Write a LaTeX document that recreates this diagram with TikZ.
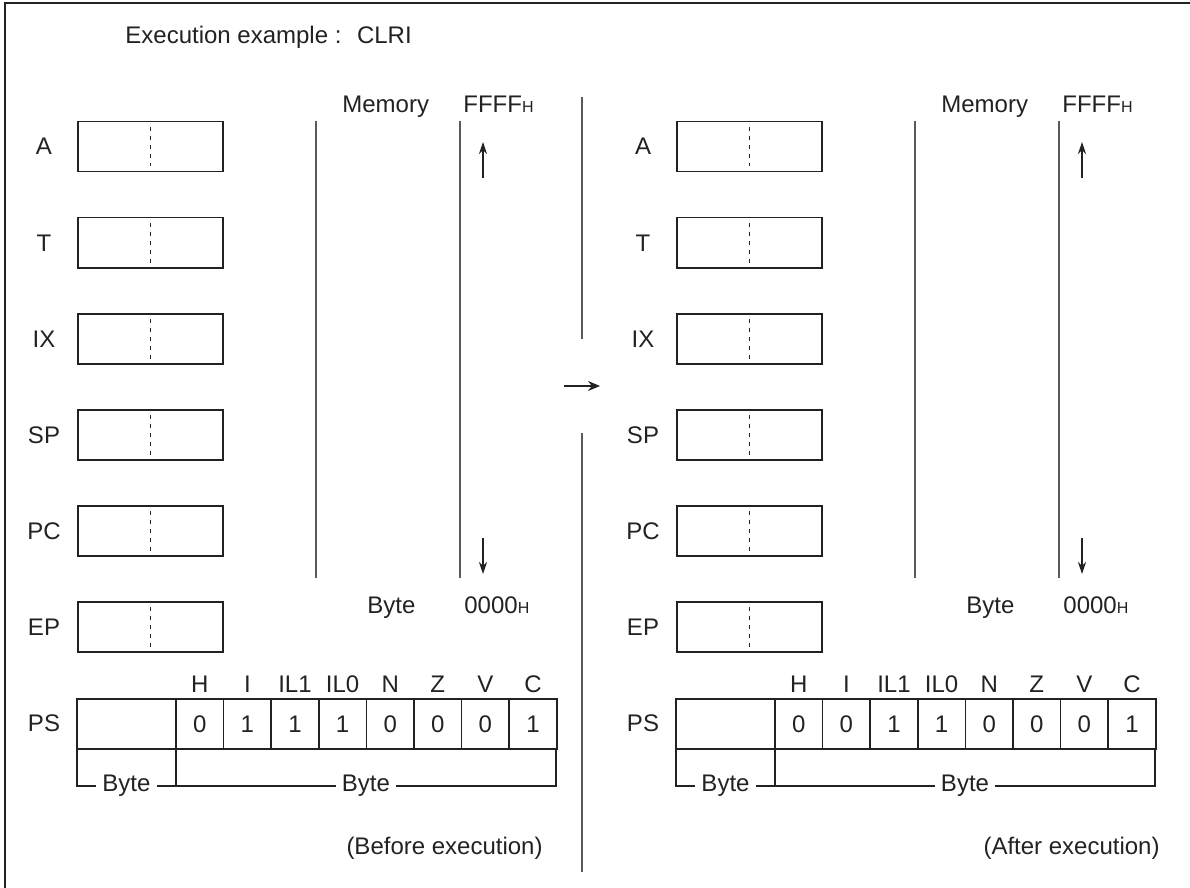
\documentclass[tikz,border=0pt]{standalone}
\usepackage{fontspec}
\setmainfont{Liberation Sans}
\usetikzlibrary{arrows.meta}
\definecolor{ink}{HTML}{222222}
\definecolor{rulegray}{HTML}{5A5A5A}
\begin{document}
\begin{tikzpicture}[x=0.5pt,y=-0.5pt,
  font=\fontsize{12}{14}\selectfont,
  every node/.style={text=ink},
  reg/.style={draw=ink, line width=0.75pt, minimum width=72.5pt, minimum height=25pt, inner sep=0pt, anchor=north west},
  halfline/.style={draw=ink, line width=0.75pt, dash pattern=on 2pt off 2.5pt},
  lbl/.style={anchor=base, inner sep=0pt},
  lblw/.style={anchor=base west, inner sep=0pt},
  memline/.style={draw=rulegray, line width=1pt},
  cellbox/.style={draw=ink, line width=0.75pt, minimum width=23.8pt, minimum height=25pt, inner sep=0pt, outer sep=0pt, anchor=north west},
  headbox/.style={draw=ink, line width=0.75pt, minimum width=49.5pt, minimum height=25pt, inner sep=0pt, outer sep=0pt, anchor=north west},
  brk/.style={draw=ink, line width=0.75pt},
  brklbl/.style={fill=white, inner xsep=3pt, inner ysep=1pt, anchor=center},
  ptr/.style={draw=ink, line width=0.6pt, -{Stealth[length=6pt,width=4pt]}},
  midptr/.style={draw=ink, line width=0.7pt, -{Stealth[length=6pt,width=5pt]}}
]
\useasboundingbox (0,0) rectangle (1190,888);
% frame
\coordinate (fbl) at (5,888);
\coordinate (ftl) at (5,3);
\coordinate (ftr) at (1190,3);
\draw[ink, line width=1pt] (fbl) -- (ftl) -- (ftr);
% title
\node[lblw] (title) at (125,43.5) {Execution example : \ CLRI};
% separator and transition arrow
\coordinate (sepA) at (582,97);
\coordinate (sepB) at (582,339);
\coordinate (sepC) at (582,433);
\coordinate (sepD) at (582,872);
\draw[memline] (sepA) -- (sepB);
\draw[memline] (sepC) -- (sepD);
\coordinate (goA) at (564,386);
\coordinate (goB) at (600,386);
\draw[midptr] (goA) -- (goB);
% panels
\foreach \sd/\dx/\vals/\capx/\capt in {L/0/{0,1,1,1,0,0,0,1}/543/{(Before execution)},R/599/{0,0,1,1,0,0,0,1}/561/{(After execution)}} {
\begin{scope}[xshift=\dx*0.5pt]
  \foreach \rg/\yy in {A/121,T/217,IX/313,SP/409,PC/505,EP/601} {
    \node[reg] (\rg-\sd) at (77,\yy) {};
    \draw[halfline] ([yshift=-3pt]\rg-\sd.north) -- ([yshift=3pt]\rg-\sd.south);
    \node[lbl] (\rg-\sd-l) at (44,\yy+34) {\rg};
  }
  % memory
  \node[lblw] (mem-\sd) at (342,113) {Memory};
  \node[lblw] (top-\sd) at (463,113) {FFFF{\fontsize{8}{9}\selectfont H}};
  \node[lblw] (byte-\sd) at (367,613) {Byte};
  \node[lblw] (bot-\sd) at (464,613) {0000{\fontsize{8}{9}\selectfont H}};
  \coordinate (m1a-\sd) at (316,121);
  \coordinate (m1b-\sd) at (316,578);
  \coordinate (m2a-\sd) at (460,121);
  \coordinate (m2b-\sd) at (460,578);
  \draw[memline] (m1a-\sd) -- (m1b-\sd);
  \draw[memline] (m2a-\sd) -- (m2b-\sd);
  \coordinate (upa-\sd) at (483,178);
  \coordinate (upb-\sd) at (483,142);
  \coordinate (dna-\sd) at (483,538);
  \coordinate (dnb-\sd) at (483,574);
  \draw[ptr] (upa-\sd) -- (upb-\sd);
  \draw[ptr] (dna-\sd) -- (dnb-\sd);
  % PS
  \node[headbox] (psh-\sd) at (77,699) {};
  \foreach \v [count=\cc] in \vals {
    \node[cellbox] (c\cc-\sd) at ({176+(\cc-1)*47.6},699) {\v};
  }
  \foreach \fl [count=\cc] in {H,I,IL1,IL0,N,Z,V,C} {
    \node[lbl] (f\cc-\sd) at ({176+(\cc-0.5)*47.6},692) {\fl};
  }
  \node[lbl] (ps-\sd) at (44,731) {PS};
  % byte brackets
  \coordinate (bk1-\sd) at (77,786);
  \coordinate (bk2-\sd) at (176,786);
  \coordinate (bk3-\sd) at (556,786);
  \draw[brk] (bk1-\sd |- psh-\sd.south) -- (bk1-\sd) -- (bk2-\sd) -- (bk2-\sd |- psh-\sd.south);
  \draw[brk] (bk2-\sd) -- (bk3-\sd) -- (bk3-\sd |- c8-\sd.south);
  \node[brklbl] (b1-\sd) at (126.5,786) {Byte};
  \node[brklbl] (b2-\sd) at (366,786) {Byte};
  \node[anchor=base east, inner sep=0pt] (cap-\sd) at (\capx,854) {\capt};
\end{scope}
}
\end{tikzpicture}
\end{document}
